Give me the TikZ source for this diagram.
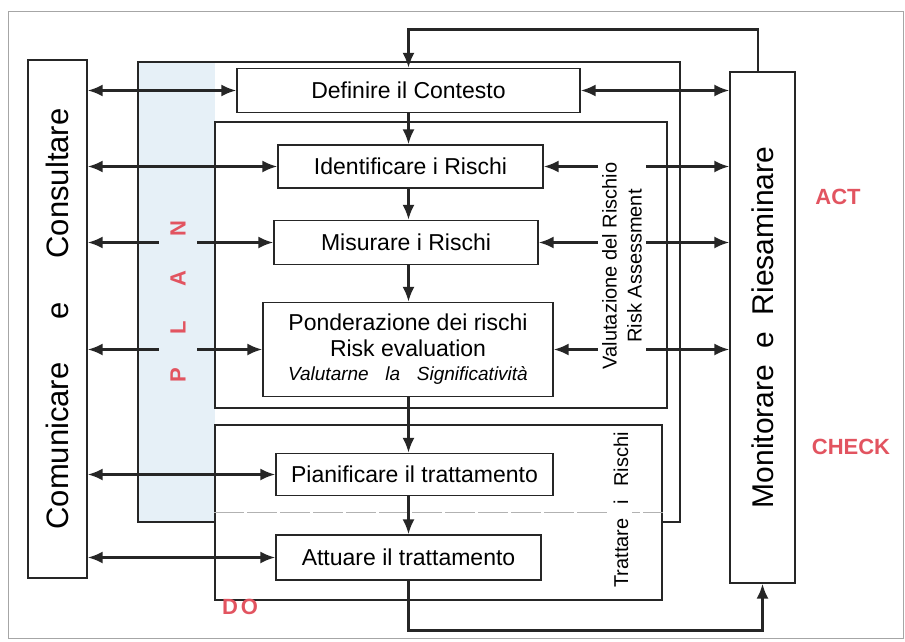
\documentclass[tikz,border=0pt]{standalone}
\usepackage{fontspec}
\setmainfont{Liberation Sans}
\usetikzlibrary{arrows.meta,positioning}
\definecolor{pdcared}{RGB}{226,84,96}
\definecolor{planblue}{RGB}{230,240,247}
\definecolor{ink}{RGB}{38,38,38}

\begin{document}
\begin{tikzpicture}[
  x=1pt,y=-1pt,
  font=\fontsize{23}{26}\selectfont,
  box/.style={draw=ink,line width=1.2pt,fill=white,inner sep=2pt,align=center},
  frame/.style={draw=ink,line width=1.1pt},
  sidebox/.style={draw=ink,line width=1.2pt,fill=white,inner sep=0pt},
  arr/.style={-{Latex[length=15pt,width=12pt]},line width=2.8pt,draw=ink},
  dbl/.style={{Latex[length=15pt,width=12pt]}-{Latex[length=15pt,width=12pt]},line width=2.8pt,draw=ink},
  vlabel/.style={rotate=90,align=center,font=\fontsize{20}{25}\selectfont},
  pdca/.style={text=pdcared,font=\fontsize{22}{26}\selectfont\bfseries}
]
\useasboundingbox (0,0) rectangle (905,642);
\draw[gray!70,line width=1pt] (8,12) rectangle (903,638);

% ---- PLAN area ----
\fill[planblue] (138,62) rectangle (215,522);
\node[frame,minimum width=542pt,minimum height=460pt] (plan) at (409,292) {};
\node[frame,fill=white,minimum width=452pt,minimum height=286pt] (valbox) at (441,265) {};
\node[frame,fill=white,minimum width=447pt,minimum height=175pt] (trabox) at (438.5,512.5) {};
\draw[gray!60,line width=1pt,dash pattern=on 30pt off 3pt] (trabox.west |- 0,512) -- (trabox.east |- 0,512);

% ---- process steps ----
\node[box,minimum width=343pt,minimum height=44pt] (def) at (408.5,90.5) {Definire il Contesto};
\node[box,minimum width=265pt,minimum height=43pt] (ide) at (410.5,166.5) {Identificare i Rischi};
\node[box,minimum width=264pt,minimum height=44pt] (mis) at (406,242.5) {Misurare i Rischi};
\node[box,minimum width=290pt,minimum height=94pt] (pon) at (408,349.5)
  {Ponderazione dei rischi\\Risk evaluation\\[-2pt]
   {\fontsize{19}{22}\selectfont\itshape Valutarne\hspace{0.6em} la\hspace{0.6em} Significatività}};
\node[box,minimum width=277pt,minimum height=42pt] (pia) at (414.5,474.5) {Pianificare il trattamento};
\node[box,minimum width=265pt,minimum height=45pt] (att) at (408.5,557.5) {Attuare il trattamento};

% ---- side boxes ----
\node[sidebox,minimum width=59pt,minimum height=518pt] (com) at (57.5,319)
  {\rotatebox{90}{\fontsize{31}{34}\selectfont Comunicare\hspace{1.4em}e\hspace{1.4em}Consultare}};
\node[sidebox,minimum width=65pt,minimum height=511pt] (mon) at (762.5,327.5)
  {\rotatebox{90}{\fontsize{30}{34}\selectfont Monitorare\hspace{0.55em}e\hspace{0.55em}Riesaminare}};

% ---- flow ----
\draw[arr] (def.south) -- (def.south |- ide.north);
\draw[arr] (def.south |- ide.south) -- (def.south |- mis.north);
\draw[arr] (def.south |- mis.south) -- (def.south |- pon.north);
\draw[arr] (def.south |- pon.south) -- (def.south |- pia.north);
\draw[arr] (def.south |- pia.south) -- (def.south |- att.north);
\draw[arr] (mon.north -| 758,0) -- ++(0,-42) -| (def.north);
\draw[arr] (att.south) -- ++(0,50) -| (mon.south);

% ---- consult / monitor links ----
\draw[dbl] (com.east |- def.west) -- (def.west);
\draw[dbl] (com.east |- ide.west) -- (ide.west);
\draw[dbl] (com.east |- mis.west) -- (mis.west);
\draw[dbl] (com.east |- pon.west) -- (pon.west);
\draw[dbl] (com.east |- pia.west) -- (pia.west);
\draw[dbl] (com.east |- att.west) -- (att.west);
\draw[dbl] (def.east) -- (def.east -| mon.west);
\draw[dbl] (ide.east) -- (ide.east -| mon.west);
\draw[dbl] (mis.east) -- (mis.east -| mon.west);
\draw[dbl] (pon.east) -- (pon.east -| mon.west);

% ---- labels ----
\node[pdca,fill=planblue,rotate=90,minimum height=38pt,inner sep=2pt] (planlbl) at (178,302)
  {P\hspace{34pt}L\hspace{34pt}A\hspace{34pt}N};
\node[vlabel,fill=white,inner sep=4pt] (vallbl) at (622,266) {Valutazione del Rischio\\Risk Assessment};
\node[vlabel,fill=white,inner sep=4pt] (tralbl) at (621,510) {Trattare\hspace{0.4em} i\hspace{0.4em} Rischi};
\node[pdca] (act) at (838,197) {ACT};
\node[pdca] (check) at (851,447) {CHECK};
\node[pdca] (do) at (240,607) {D\hspace{3pt}O};
\end{tikzpicture}
\end{document}
